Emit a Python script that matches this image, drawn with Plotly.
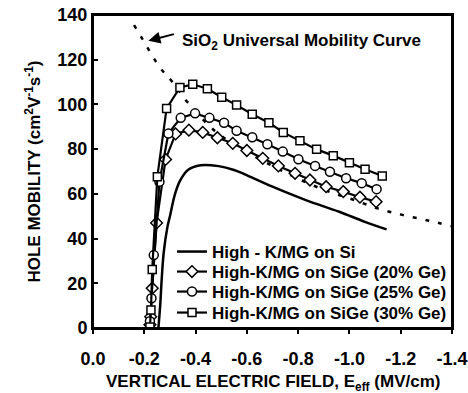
import plotly.graph_objects as go

# ---- data ----
univ_x = [-0.16, -0.195, -0.26, -0.31, -0.37, -0.47, -0.58, -0.70, -0.81, -0.91, -1.01, -1.11, -1.21, -1.31, -1.40]
univ_y = [135.5, 128.8, 116.7, 110.0, 100.8, 88.7, 80.0, 72.5, 66.2, 61.4, 57.6, 53.5, 50.5, 48.0, 45.5]

si_x = [-0.255, -0.262, -0.268, -0.276, -0.29, -0.30, -0.32, -0.34, -0.37, -0.42, -0.49, -0.55, -0.59, -0.70, -0.83, -0.96, -1.06, -1.145]
si_y = [0.0, 10.0, 22.0, 34.0, 45.0, 50.0, 60.0, 66.0, 70.7, 72.8, 72.4, 70.7, 68.8, 63.2, 57.2, 52.0, 47.5, 44.1]

ge20_x = [-0.222, -0.225, -0.231, -0.248, -0.283, -0.322, -0.374, -0.428, -0.485, -0.545, -0.600, -0.662, -0.723, -0.788, -0.846, -0.909, -0.976, -1.041, -1.104]
ge20_y = [1.5, 5.0, 17.8, 47.0, 75.4, 86.8, 88.5, 87.5, 85.1, 82.6, 79.4, 75.9, 72.5, 69.2, 66.2, 63.2, 61.0, 58.5, 56.5]

ge25_x = [-0.222, -0.228, -0.237, -0.259, -0.294, -0.342, -0.398, -0.454, -0.511, -0.560, -0.621, -0.680, -0.740, -0.801, -0.866, -0.924, -0.987, -1.048, -1.106]
ge25_y = [3.0, 13.3, 32.6, 65.4, 87.0, 94.0, 96.0, 94.0, 91.8, 88.2, 85.3, 82.2, 78.9, 75.5, 72.5, 69.9, 67.0, 64.8, 62.1]

ge30_x = [-0.222, -0.226, -0.231, -0.251, -0.287, -0.339, -0.389, -0.446, -0.502, -0.560, -0.621, -0.686, -0.742, -0.807, -0.872, -0.937, -1.000, -1.061, -1.128]
ge30_y = [0.5, 8.0, 26.2, 67.7, 98.2, 107.6, 109.0, 107.0, 103.2, 99.7, 95.6, 91.8, 87.5, 83.8, 79.9, 77.1, 73.9, 71.0, 68.0]

x_ticks = [0.0, -0.2, -0.4, -0.6, -0.8, -1.0, -1.2, -1.4]
x_tick_text = ["0.0", "-0.2", "-0.4", "-0.6", "-0.8", "-1.0", "-1.2", "-1.4"]
y_ticks = [0, 20, 40, 60, 80, 100, 120, 140]

names = ["High - K/MG on Si",
         "High-K/MG on SiGe (20% Ge)",
         "High-K/MG on SiGe (25% Ge)",
         "High-K/MG on SiGe (30% Ge)"]

x_title = "VERTICAL ELECTRIC FIELD, E<sub>eff</sub> (MV/cm)"
y_title = "HOLE MOBILITY (cm<sup>2</sup>V<sup>-1</sup>s<sup>-1</sup>)"

FONT = "Liberation Sans, Arial, sans-serif"

fig = go.Figure()

fig.add_trace(go.Scatter(x=univ_x, y=univ_y, mode="lines", line_shape="spline",
                         line=dict(color="black", width=2.5, dash="4px,9px"),
                         showlegend=False, hoverinfo="skip"))

fig.add_trace(go.Scatter(x=si_x, y=si_y, mode="lines", name=names[0], line_shape="spline",
                         line=dict(color="black", width=2.5), legend="legend"))

mk = dict(color="white", line=dict(color="black", width=1.5))
fig.add_trace(go.Scatter(x=ge20_x, y=ge20_y, mode="lines+markers", name=names[1],
                         line=dict(color="black", width=2.2), legend="legend2",
                         marker=dict(symbol="diamond", size=9, **mk)))
fig.add_trace(go.Scatter(x=ge25_x, y=ge25_y, mode="lines+markers", name=names[2],
                         line=dict(color="black", width=2.2), legend="legend3",
                         marker=dict(symbol="circle", size=9, **mk)))
fig.add_trace(go.Scatter(x=ge30_x, y=ge30_y, mode="lines+markers", name=names[3],
                         line=dict(color="black", width=2.2), legend="legend4",
                         marker=dict(symbol="square", size=8, **mk)))

# arrow + label for the universal curve
fig.add_annotation(x=-0.216, y=128.5, ax=27, ay=-7, text="", showarrow=True,
                   arrowhead=2, arrowsize=1.2, arrowwidth=2, arrowcolor="black")
fig.add_annotation(x=-0.339, y=127.9, xanchor="left", yanchor="middle", showarrow=False,
                   text="SiO<sub>2</sub> Universal Mobility Curve",
                   font=dict(family=FONT, size=17, color="black", weight="bold"))

# x-axis title placed a little lower than plotly allows for an axis title
fig.add_annotation(xref="paper", yref="paper", x=0.5, y=0, yanchor="middle",
                   yshift=-55, showarrow=False, text=x_title,
                   font=dict(family=FONT, size=17, color="black", weight="bold"))

# plot frame
fig.add_shape(type="rect", xref="paper", yref="paper", x0=0, x1=1, y0=0, y1=1,
              line=dict(color="black", width=2), layer="above")

W, H = 468, 393
ML, MR, MT, MB = 93, 16, 15, 65
plot_h = H - MT - MB


def leg(row_center_px):
    # row_center_px: vertical centre of the legend row, in page pixels
    yp = (H - MB - row_center_px) / plot_h
    return dict(x=0.22, y=yp, xanchor="left", yanchor="middle",
                bgcolor="rgba(0,0,0,0)", font=dict(size=17, weight="bold", family=FONT),
                itemwidth=30)


fig.update_layout(
    width=W, height=H,
    margin=dict(l=ML, r=MR, t=MT, b=MB, autoexpand=False),
    paper_bgcolor="white", plot_bgcolor="white",
    font=dict(family=FONT, size=17, color="black", weight="bold"),
    legend=leg(252), legend2=leg(272), legend3=leg(292), legend4=leg(313),
    xaxis=dict(range=[0, -1.4], tickvals=x_ticks, ticktext=x_tick_text,
               showgrid=False, zeroline=False, showline=True, linecolor="black",
               linewidth=2, mirror=True, ticks="outside", ticklen=4, tickwidth=1.5,
               tickcolor="black", tickfont=dict(size=18, weight="bold"),
               ticklabelstandoff=9, ticklabeloverflow="allow", automargin=False),
    yaxis=dict(range=[0, 140], tickvals=y_ticks,
               showgrid=False, zeroline=False, showline=True, linecolor="black",
               linewidth=2, mirror=True, ticks="inside", ticklen=5, tickwidth=1.5,
               tickcolor="black", tickfont=dict(size=18, weight="bold"),
               ticklabeloverflow="allow", automargin=False,
               title=dict(text=y_title, font=dict(size=17, weight="bold"), standoff=12)),
)

# remove the browser's default 8px body margin so the figure sits at the page origin
fig.write_html("out.html", config={"displayModeBar": False},
               post_script="document.body.style.margin='0';document.body.style.overflow='hidden';")
